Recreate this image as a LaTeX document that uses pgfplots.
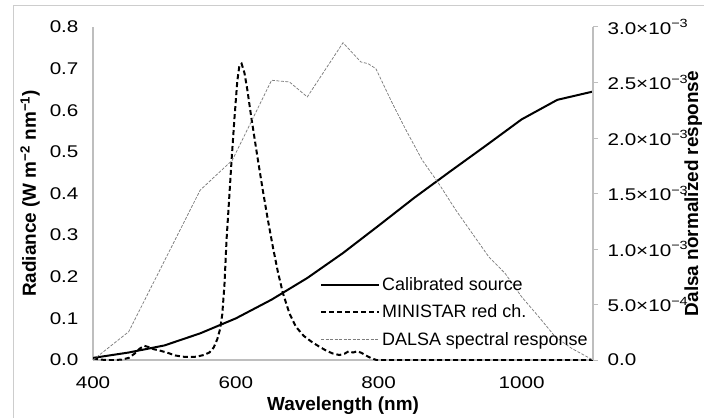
\documentclass[border=0pt]{standalone}
\usepackage{fontspec}
\setmainfont{Liberation Sans}
\newfontfamily\tickfont{Liberation Sans}[FakeStretch=1.22]
\usepackage{pgfplots}
\pgfplotsset{compat=1.18}
\definecolor{axgray}{RGB}{190,190,190}
\definecolor{bordgray}{RGB}{205,205,205}
\definecolor{dgray}{RGB}{125,125,125}

\pgfplotstableread{
x y
400 0.005
450 0.018
500 0.035
550 0.064
600 0.100
650 0.145
700 0.197
750 0.257
800 0.323
850 0.390
900 0.453
950 0.515
1000 0.578
1050 0.625
1100 0.645
}\calib

\pgfplotstableread{
x y
400 0.004
410 0.001
420 0.0
430 0.0
440 0.001
450 0.005
458 0.015
465 0.027
472 0.034
478 0.031
485 0.026
495 0.022
505 0.017
515 0.011
525 0.008
535 0.007
545 0.008
555 0.012
563 0.018
569 0.030
574 0.050
578 0.075
581 0.110
584 0.180
587 0.290
590 0.370
594 0.480
598 0.580
602 0.670
605 0.708
608 0.712
612 0.690
616 0.650
621 0.590
630 0.490
638 0.405
645 0.335
652 0.270
659 0.210
666 0.160
675 0.112
684 0.080
695 0.058
705 0.045
715 0.034
725 0.024
735 0.016
745 0.012
752 0.015
758 0.021
764 0.018
770 0.021
776 0.017
782 0.011
790 0.004
797 0.0
850 0.0
1100 0.0
}\ministar

\pgfplotstableread{
x y
400 0
450 0.000255
550 0.00153
595 0.0018
650 0.00252
675 0.002505
700 0.00237
750 0.002858
775 0.002685
785 0.00267
796 0.002625
819 0.002314
838 0.002074
861 0.0018
884 0.00159
908 0.00135
931 0.00114
954 0.00093
977 0.00078
1000 0.00057
1024 0.00039
1047 0.00021
1070 0.000105
1100 0
}\dalsa

\begin{document}
\begin{tikzpicture}[x=1bp,y=1bp]
\useasboundingbox (0,0) rectangle (704,417);
\draw[bordgray, line width=1bp] (13,-10) -- (13,411) -- (720,411);
\begin{axis}[
  scale only axis, width=500bp, height=333bp,
  at={(93bp,57bp)}, anchor=south west,
  xmin=400, xmax=1100, ymin=0, ymax=0.8,
  axis x line*=bottom, axis y line*=left,
  axis line style={-, axgray, line width=1.2bp},
  major tick length=0pt,
  xtick={400,600,800,1000},
  xticklabels={400,600,800,1000},
  ytick={0,0.1,0.2,0.3,0.4,0.5,0.6,0.7,0.8},
  yticklabels={0.0,0.1,0.2,0.3,0.4,0.5,0.6,0.7,0.8},
  /pgf/number format/assume math mode=true,
  tick label style={font=\tickfont\fontsize{17}{17}\selectfont},
  yticklabel style={xshift=-11bp},
  xticklabel style={yshift=-13bp},
  xlabel={Wavelength (nm)},
  ylabel={Radiance (W m\textsuperscript{−2} nm\textsuperscript{−1})},
  label style={font=\bfseries\fontsize{19}{19}\selectfont},
  xlabel style={at={(axis description cs:0.5,-0.137)}, anchor=center},
  ylabel style={at={(axis description cs:-0.126,0.5)}, anchor=center, rotate=0},
]
\addplot[black, line width=2bp] table[x=x,y=y] {\calib};
\addplot[black, line width=2bp, dash pattern=on 5bp off 3bp] table[x=x,y=y] {\ministar};
\end{axis}
\begin{axis}[
  scale only axis, width=500bp, height=333bp,
  at={(93bp,57bp)}, anchor=south west,
  xmin=400, xmax=1100, ymin=0, ymax=0.003,
  axis x line=none, axis y line*=right,
  axis line style={-, axgray, line width=1.2bp},
  tick style={axgray, line width=1bp},
  tick align=outside, major tick length=5bp,
  ytick={0,0.0005,0.001,0.0015,0.002,0.0025,0.003},
  yticklabels={0.0,5.0×10\textsuperscript{−4},1.0×10\textsuperscript{−3},1.5×10\textsuperscript{−3},2.0×10\textsuperscript{−3},2.5×10\textsuperscript{−3},3.0×10\textsuperscript{−3}},
  scaled y ticks=false,
  /pgf/number format/assume math mode=true,
  tick label style={font=\tickfont\fontsize{17}{17}\selectfont},
  yticklabel style={xshift=6bp},
  ylabel={Dalsa normalized response},
  label style={font=\bfseries\fontsize{19}{19}\selectfont},
  ylabel style={at={(axis description cs:1.2005,0.5)}, anchor=center, rotate=0},
  legend style={draw=none, fill=none, at={(axis description cs:0.454,0.255)}, anchor=north west,
    font=\fontsize{18}{18}\selectfont, inner sep=0pt, row sep=9bp},
  legend cell align=left,
  legend image code/.code={\draw[#1] (0bp,0bp) -- (58bp,0bp);},
]
\addlegendimage{black, line width=2bp}
\addlegendentry{Calibrated source}
\addlegendimage{black, line width=2bp, dash pattern=on 5bp off 3bp}
\addlegendentry{MINISTAR red ch.}
\addplot[dgray, line width=0.75bp, dash pattern=on 3bp off 1.5bp] table[x=x,y=y] {\dalsa};
\addlegendentry{DALSA spectral response}
\end{axis}
\end{tikzpicture}
\end{document}
